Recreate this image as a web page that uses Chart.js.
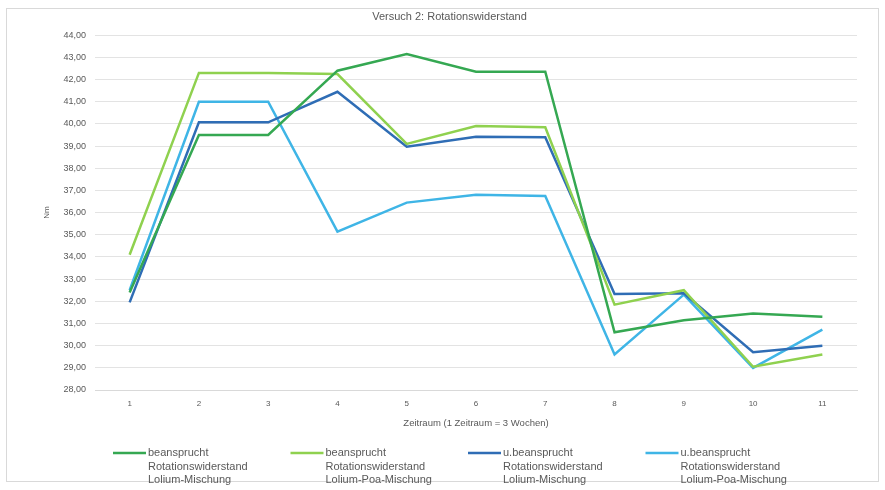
<!DOCTYPE html>
<html>
<head>
<meta charset="utf-8">
<script src="https://cdn.jsdelivr.net/npm/chart.js@4"></script>
<style>
  html, body { margin: 0; padding: 0; background: #fff; }
  #wrap { width: 885px; height: 490px; position: relative; }
</style>
</head>
<body>
<div id="wrap"><canvas id="chart" width="885" height="490"></canvas></div>
<script>
// Daten
const categories = ['1', '2', '3', '4', '5', '6', '7', '8', '9', '10', '11'];
const belastetLolium    = [32.4, 39.5, 39.5, 42.4, 43.15, 42.35, 42.35, 30.6, 31.15, 31.45, 31.3];
const belastetLoliumPoa = [34.1, 42.3, 42.3, 42.25, 39.1, 39.9, 39.85, 31.85, 32.5, 29.05, 29.6];
const unbelastetLolium    = [31.95, 40.07, 40.07, 41.45, 38.97, 39.42, 39.4, 32.33, 32.36, 29.7, 30.0];
const unbelastetLoliumPoa = [32.5, 41.0, 41.0, 35.14, 36.45, 36.8, 36.75, 29.6, 32.3, 29.0, 30.72];
const seriesNames = [
  ['beansprucht', 'Rotationswiderstand', 'Lolium-Mischung'],
  ['beansprucht', 'Rotationswiderstand', 'Lolium-Poa-Mischung'],
  ['u.beansprucht', 'Rotationswiderstand', 'Lolium-Mischung'],
  ['u.beansprucht', 'Rotationswiderstand', 'Lolium-Poa-Mischung']
];
const seriesColors = ['#35a852', '#8fd14f', '#2f6db5', '#3fb5e6'];

const textColor = '#595959';
const fontFamily = '"Liberation Sans", Arial, sans-serif';

// Rahmen um das Diagramm
const frame = {
  id: 'frame',
  beforeDraw(chart) {
    const ctx = chart.ctx;
    ctx.save();
    ctx.strokeStyle = '#d9d9d9';
    ctx.lineWidth = 1;
    ctx.strokeRect(6.5, 8.5, chart.width - 13, chart.height - 17);
    ctx.restore();
  }
};

// Legende mit mehrzeiligen Einträgen
const multiLegend = {
  id: 'multiLegend',
  afterDraw(chart) {
    const ctx = chart.ctx;
    ctx.save();
    ctx.font = '11px ' + fontFamily;
    ctx.textBaseline = 'middle';
    ctx.textAlign = 'left';
    chart.data.datasets.forEach((ds, i) => {
      const x0 = 113 + i * 177.5;
      const y0 = 453;
      ctx.strokeStyle = ds.borderColor;
      ctx.lineWidth = 2.5;
      ctx.beginPath();
      ctx.moveTo(x0, y0);
      ctx.lineTo(x0 + 33, y0);
      ctx.stroke();
      ctx.fillStyle = textColor;
      seriesNames[i].forEach((line, j) => {
        ctx.fillText(line, x0 + 35, y0 + j * 13.5);
      });
    });
    ctx.restore();
  }
};

const allSeries = [belastetLolium, belastetLoliumPoa, unbelastetLolium, unbelastetLoliumPoa];

new Chart(document.getElementById('chart'), {
  type: 'line',
  data: {
    labels: categories,
    datasets: allSeries.map((vals, i) => ({
      label: seriesNames[i].join(' '),
      data: vals,
      borderColor: seriesColors[i],
      backgroundColor: seriesColors[i],
      borderWidth: 2.5,
      pointRadius: 0,
      tension: 0,
      fill: false
    }))
  },
  options: {
    responsive: false,
    animation: false,
    layout: { padding: { left: 42, right: 28, top: 0, bottom: 61 } },
    plugins: {
      legend: { display: false },
      tooltip: { enabled: false },
      title: {
        display: true,
        text: 'Versuch 2: Rotationswiderstand',
        color: textColor,
        font: { family: fontFamily, size: 11, weight: 'normal' },
        padding: { top: 10, bottom: 12 }
      }
    },
    scales: {
      x: {
        offset: true,
        grid: { display: false, drawTicks: false },
        border: { display: true, color: '#d9d9d9' },
        ticks: { color: textColor, font: { family: fontFamily, size: 8 }, padding: 9 },
        title: {
          display: true,
          text: 'Zeitraum (1 Zeitraum = 3 Wochen)',
          color: textColor,
          font: { family: fontFamily, size: 9.5 },
          padding: { top: 0, bottom: 0 }
        }
      },
      y: {
        min: 28,
        max: 44,
        afterFit(scale) { scale.width = 53; },
        grid: { color: '#e3e3e3', lineWidth: 1, drawTicks: false },
        border: { display: false },
        ticks: {
          stepSize: 1,
          color: textColor,
          padding: 9,
          font: { family: fontFamily, size: 9 },
          callback: v => v.toFixed(2).replace('.', ',')
        },
        title: {
          display: true,
          text: 'Nm',
          color: textColor,
          font: { family: fontFamily, size: 8 },
          padding: { top: 0, bottom: 0 }
        }
      }
    }
  },
  plugins: [frame, multiLegend]
});
</script>
</body>
</html>
